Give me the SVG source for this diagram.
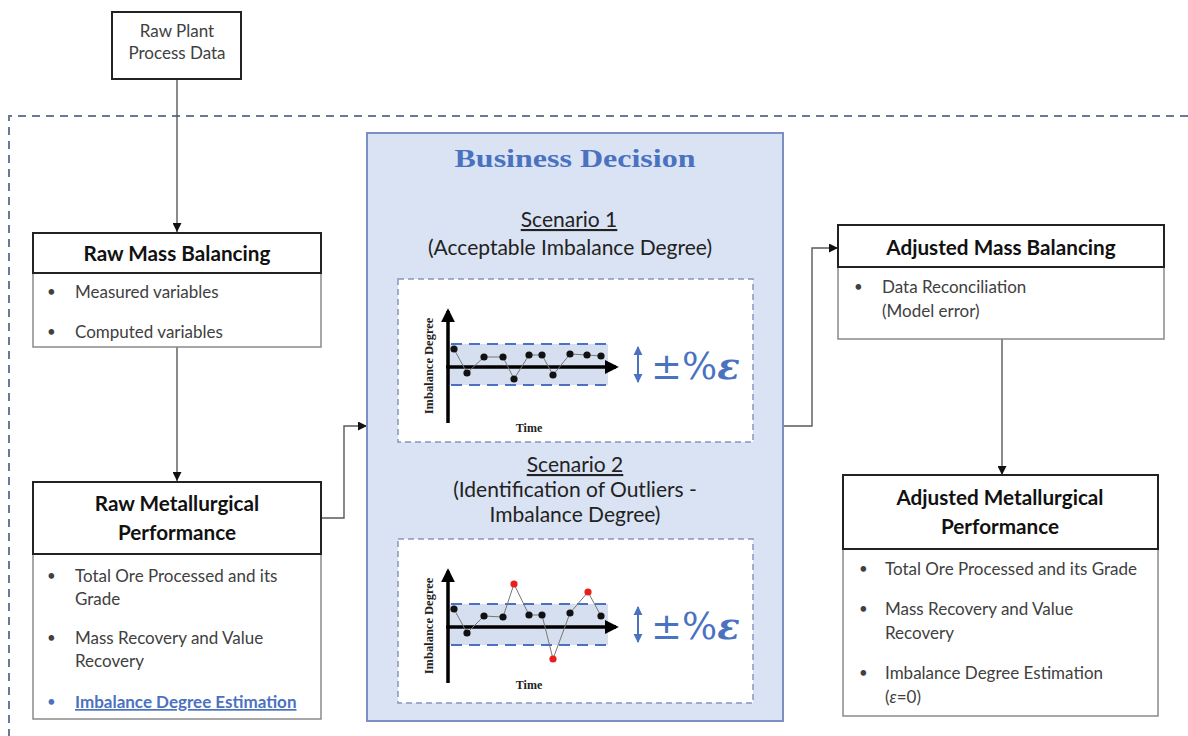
<svg xmlns="http://www.w3.org/2000/svg" width="1188" height="736" viewBox="0 0 1188 736">
  <style>
    .title { font-family: Lato, "Liberation Sans", sans-serif; font-weight: bold; font-size: 20.7px; fill: #111; text-anchor: middle; }
    .body { font-family: Lato, "Liberation Sans", sans-serif; font-size: 17px; fill: #404040; }
    .bul { font-family: Lato, "Liberation Sans", sans-serif; font-size: 15px; fill: #404040; }
    .hdr { fill: #fff; stroke: #222; stroke-width: 2; }
    .bdy { fill: #fff; stroke: #8a8a8a; stroke-width: 1.5; }
    .conn { fill: none; stroke: #595959; stroke-width: 1.4; }
    .scen { font-family: Lato, "Liberation Sans", sans-serif; font-size: 21px; fill: #222; text-anchor: middle; }
    .chartbox { fill: #fff; stroke: #8796bd; stroke-width: 1.5; stroke-dasharray: 6 4; }
    .band { fill: #d5dff0; }
    .bandline { stroke: #4a72c0; stroke-width: 2; stroke-dasharray: 11 7; }
    .axis { stroke: #000; stroke-width: 3.5; fill: none; }
    .trace { fill: none; stroke: #777; stroke-width: 1; }
    .pt { fill: #111; }
    .out { fill: #e8201c; }
    .axlbl { font-family: "Liberation Serif", serif; font-weight: bold; font-size: 12.5px; fill: #222; text-anchor: middle; }
    .tlbl { font-family: "Liberation Serif", serif; font-weight: bold; font-size: 12px; fill: #222; text-anchor: middle; }
    .eps { font-family: "DejaVu Serif", "Liberation Serif", serif; font-size: 37px; fill: #4a72c0; }
    .dbl { stroke: #4a72c0; stroke-width: 2; }
  </style>
  <defs>
    <marker id="arrow" viewBox="0 0 10 10" refX="10" refY="5" markerWidth="9" markerHeight="9" markerUnits="userSpaceOnUse" orient="auto">
      <path d="M0,0 L10,5 L0,10 z" fill="#111"/>
    </marker>
    <marker id="axhead" viewBox="0 0 10 10" refX="8" refY="5" markerWidth="4" markerHeight="4" orient="auto">
      <path d="M0,0 L10,5 L0,10 z" fill="#000"/>
    </marker>
    <marker id="bluehead" viewBox="0 0 10 10" refX="9" refY="5" markerWidth="9" markerHeight="10" markerUnits="userSpaceOnUse" orient="auto-start-reverse">
      <path d="M0,0 L10,5 L0,10 z" fill="#4a72c0"/>
    </marker>
  </defs>

  <!-- dashed process boundary -->
  <path d="M1188,116 L9,116 L9,736" fill="none" stroke="#6b7899" stroke-width="2" stroke-dasharray="8 6"/>

  <!-- connectors -->
  <g id="connectors">
    <line class="conn" x1="177" y1="79" x2="177" y2="232" marker-end="url(#arrow)"/>
    <line class="conn" x1="177" y1="347" x2="177" y2="481" marker-end="url(#arrow)"/>
    <polyline class="conn" points="321,518 344,518 344,426 367,426" marker-end="url(#arrow)"/>
    <polyline class="conn" points="783,426 812,426 812,248 838,248" marker-end="url(#arrow)"/>
    <line class="conn" x1="1002" y1="339" x2="1002" y2="475" marker-end="url(#arrow)"/>
  </g>

  <!-- source data -->
  <g id="raw-plant-data">
    <rect x="112" y="12" width="129" height="67" fill="#fff" stroke="#222" stroke-width="2"/>
    <text class="body" x="177" y="37" text-anchor="middle">Raw Plant</text>
    <text class="body" x="177" y="59" text-anchor="middle">Process Data</text>
  </g>

  <!-- raw mass balancing -->
  <g id="raw-mass-balancing">
    <rect class="bdy" x="33" y="273" width="288" height="74"/>
    <rect class="hdr" x="33" y="233" width="288" height="40"/>
    <text class="title" x="177" y="261">Raw Mass Balancing</text>
    <text class="bul" x="47" y="297">•</text>
    <text class="body" x="75" y="298">Measured variables</text>
    <text class="bul" x="47" y="337">•</text>
    <text class="body" x="75" y="338">Computed variables</text>
  </g>

  <!-- raw metallurgical performance -->
  <g id="raw-metallurgical-performance">
    <rect class="bdy" x="33" y="554" width="288" height="165"/>
    <rect class="hdr" x="33" y="482" width="288" height="72"/>
    <text class="title" x="177" y="511">Raw Metallurgical</text>
    <text class="title" x="177" y="540">Performance</text>
    <text class="bul" x="47" y="581">•</text>
    <text class="body" x="75" y="582">Total Ore Processed and its</text>
    <text class="body" x="75" y="605">Grade</text>
    <text class="bul" x="47" y="643">•</text>
    <text class="body" x="75" y="644">Mass Recovery and Value</text>
    <text class="body" x="75" y="667">Recovery</text>
    <text class="bul" x="47" y="707" style="fill:#4a72c0">•</text>
    <text class="body" x="75" y="708" style="fill:#4a72c0;font-weight:bold;text-decoration:underline">Imbalance Degree Estimation</text>
  </g>

  <!-- business decision panel -->
  <g id="business-decision">
    <rect x="367" y="133" width="416" height="588" fill="#dae3f3" stroke="#7b8fc2" stroke-width="2"/>
    <text x="575" y="167" text-anchor="middle" font-family="Liberation Serif, serif" font-weight="bold" font-size="25" fill="#4a72c0" textLength="241" lengthAdjust="spacingAndGlyphs">Business Decision</text>

    <text class="scen" x="569" y="227" style="text-decoration:underline">Scenario 1</text>
    <text class="scen" x="570" y="255">(Acceptable Imbalance Degree)</text>

    <!-- scenario 1 chart -->
    <g id="chart-1">
      <rect class="chartbox" x="398" y="279" width="355" height="163"/>
      <rect class="band" x="449" y="344" width="159" height="41"/>
      <line class="bandline" x1="451" y1="344" x2="606" y2="344"/>
      <line class="bandline" x1="451" y1="385" x2="606" y2="385"/>
      <line class="axis" x1="448" y1="423" x2="448" y2="311" marker-end="url(#axhead)"/>
      <line class="axis" x1="446" y1="367" x2="616" y2="367" marker-end="url(#axhead)"/>
      <polyline class="trace" points="454,349 467,373 484,357 503,357 514,379 529,355 542,355 553,375 570,354 587,355 601,356"/>
      <g class="pt">
        <circle cx="454" cy="349" r="3.6"/><circle cx="467" cy="373" r="3.6"/>
        <circle cx="484" cy="357" r="3.6"/><circle cx="503" cy="357" r="3.6"/>
        <circle cx="514" cy="379" r="3.6"/><circle cx="529" cy="355" r="3.6"/>
        <circle cx="542" cy="355" r="3.6"/><circle cx="553" cy="375" r="3.6"/>
        <circle cx="570" cy="354" r="3.6"/><circle cx="587" cy="355" r="3.6"/>
        <circle cx="601" cy="356" r="3.6"/>
      </g>
      <text class="axlbl" transform="translate(433,366) rotate(-90)">Imbalance Degree</text>
      <text class="tlbl" x="529" y="432">Time</text>
      <line class="dbl" x1="638" y1="347" x2="638" y2="382" marker-start="url(#bluehead)" marker-end="url(#bluehead)"/>
      <text class="eps" x="651" y="379">±%<tspan font-style="italic" font-weight="bold">ε</tspan></text>
    </g>

    <text class="scen" x="575" y="472" style="text-decoration:underline">Scenario 2</text>
    <text class="scen" x="575" y="497">(Identification of Outliers -</text>
    <text class="scen" x="575" y="522">Imbalance Degree)</text>

    <!-- scenario 2 chart -->
    <g id="chart-2">
      <rect class="chartbox" x="398" y="539" width="355" height="164"/>
      <rect class="band" x="449" y="604" width="159" height="41"/>
      <line class="bandline" x1="451" y1="604" x2="606" y2="604"/>
      <line class="bandline" x1="451" y1="645" x2="606" y2="645"/>
      <line class="axis" x1="448" y1="683" x2="448" y2="571" marker-end="url(#axhead)"/>
      <line class="axis" x1="446" y1="627" x2="616" y2="627" marker-end="url(#axhead)"/>
      <polyline class="trace" points="454,609 467,633 484,616 503,617 514,584 529,615 542,615 553,659 570,613 588,592 601,616"/>
      <g class="pt">
        <circle cx="454" cy="609" r="3.6"/><circle cx="467" cy="633" r="3.6"/>
        <circle cx="484" cy="616" r="3.6"/><circle cx="503" cy="617" r="3.6"/>
        <circle cx="529" cy="615" r="3.6"/><circle cx="542" cy="615" r="3.6"/>
        <circle cx="570" cy="613" r="3.6"/><circle cx="601" cy="616" r="3.6"/>
      </g>
      <g class="out">
        <circle cx="514" cy="584" r="3.6"/><circle cx="553" cy="659" r="3.6"/>
        <circle cx="588" cy="592" r="3.6"/>
      </g>
      <text class="axlbl" transform="translate(433,626) rotate(-90)">Imbalance Degree</text>
      <text class="tlbl" x="529" y="689">Time</text>
      <line class="dbl" x1="638" y1="607" x2="638" y2="642" marker-start="url(#bluehead)" marker-end="url(#bluehead)"/>
      <text class="eps" x="651" y="639">±%<tspan font-style="italic" font-weight="bold">ε</tspan></text>
    </g>
  </g>

  <!-- adjusted mass balancing -->
  <g id="adjusted-mass-balancing">
    <rect class="bdy" x="838" y="267" width="326" height="72"/>
    <rect class="hdr" x="838" y="225" width="326" height="42"/>
    <text class="title" x="1001" y="255">Adjusted Mass Balancing</text>
    <text class="bul" x="854" y="292">•</text>
    <text class="body" x="882" y="293">Data Reconciliation</text>
    <text class="body" x="882" y="317">(Model error)</text>
  </g>

  <!-- adjusted metallurgical performance -->
  <g id="adjusted-metallurgical-performance">
    <rect class="bdy" x="843" y="549" width="315" height="167"/>
    <rect class="hdr" x="843" y="475" width="315" height="74"/>
    <text class="title" x="1000" y="505">Adjusted Metallurgical</text>
    <text class="title" x="1000" y="534">Performance</text>
    <text class="bul" x="859" y="574">•</text>
    <text class="body" x="885" y="575">Total Ore Processed and its Grade</text>
    <text class="bul" x="859" y="614">•</text>
    <text class="body" x="885" y="615">Mass Recovery and Value</text>
    <text class="body" x="885" y="639">Recovery</text>
    <text class="bul" x="859" y="678">•</text>
    <text class="body" x="885" y="679">Imbalance Degree Estimation</text>
    <text class="body" x="885" y="703">(<tspan font-style="italic">ε</tspan>=0)</text>
  </g>
</svg>
